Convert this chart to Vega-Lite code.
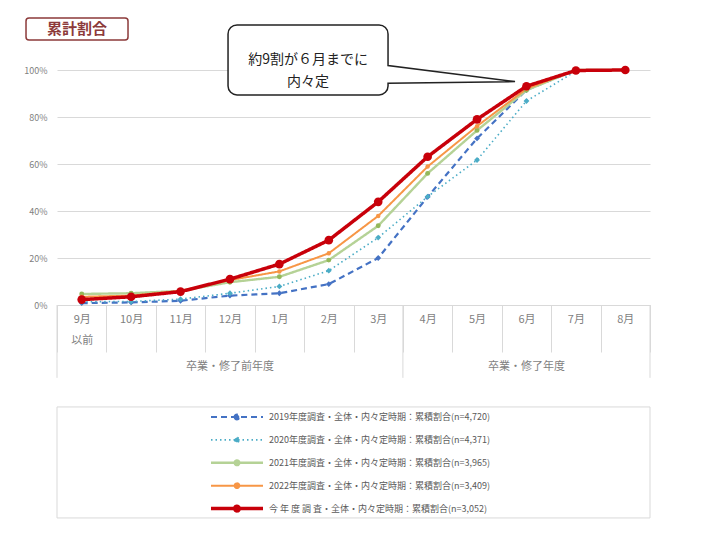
{
  "$schema": "https://vega.github.io/schema/vega-lite/v6.json",
  "width": 593,
  "height": 235,
  "autosize": {"type": "none"},
  "padding": {"left": 57, "top": 70, "right": 54, "bottom": 247},
  "background": "white",
  "config": {
    "font": "Noto Sans CJK JP",
    "view": {"stroke": null}
  },
  "data": {
    "values": [
      {"month": "9月", "series": "2019年度調査・全体・内々定時期：累積割合(n=4,720)", "value": 0.008},
      {"month": "10月", "series": "2019年度調査・全体・内々定時期：累積割合(n=4,720)", "value": 0.011},
      {"month": "11月", "series": "2019年度調査・全体・内々定時期：累積割合(n=4,720)", "value": 0.018},
      {"month": "12月", "series": "2019年度調査・全体・内々定時期：累積割合(n=4,720)", "value": 0.04},
      {"month": "1月", "series": "2019年度調査・全体・内々定時期：累積割合(n=4,720)", "value": 0.05},
      {"month": "2月", "series": "2019年度調査・全体・内々定時期：累積割合(n=4,720)", "value": 0.089},
      {"month": "3月", "series": "2019年度調査・全体・内々定時期：累積割合(n=4,720)", "value": 0.2},
      {"month": "4月", "series": "2019年度調査・全体・内々定時期：累積割合(n=4,720)", "value": 0.46},
      {"month": "5月", "series": "2019年度調査・全体・内々定時期：累積割合(n=4,720)", "value": 0.709},
      {"month": "6月", "series": "2019年度調査・全体・内々定時期：累積割合(n=4,720)", "value": 0.915},
      {"month": "7月", "series": "2019年度調査・全体・内々定時期：累積割合(n=4,720)", "value": 1.0},
      {"month": "8月", "series": "2019年度調査・全体・内々定時期：累積割合(n=4,720)", "value": 1.0},
      {"month": "9月", "series": "2020年度調査・全体・内々定時期：累積割合(n=4,371)", "value": 0.014},
      {"month": "10月", "series": "2020年度調査・全体・内々定時期：累積割合(n=4,371)", "value": 0.015},
      {"month": "11月", "series": "2020年度調査・全体・内々定時期：累積割合(n=4,371)", "value": 0.025},
      {"month": "12月", "series": "2020年度調査・全体・内々定時期：累積割合(n=4,371)", "value": 0.05},
      {"month": "1月", "series": "2020年度調査・全体・内々定時期：累積割合(n=4,371)", "value": 0.079},
      {"month": "2月", "series": "2020年度調査・全体・内々定時期：累積割合(n=4,371)", "value": 0.146},
      {"month": "3月", "series": "2020年度調査・全体・内々定時期：累積割合(n=4,371)", "value": 0.287},
      {"month": "4月", "series": "2020年度調査・全体・内々定時期：累積割合(n=4,371)", "value": 0.461},
      {"month": "5月", "series": "2020年度調査・全体・内々定時期：累積割合(n=4,371)", "value": 0.617},
      {"month": "6月", "series": "2020年度調査・全体・内々定時期：累積割合(n=4,371)", "value": 0.868},
      {"month": "7月", "series": "2020年度調査・全体・内々定時期：累積割合(n=4,371)", "value": 0.995},
      {"month": "8月", "series": "2020年度調査・全体・内々定時期：累積割合(n=4,371)", "value": 1.0},
      {"month": "9月", "series": "2021年度調査・全体・内々定時期：累積割合(n=3,965)", "value": 0.047},
      {"month": "10月", "series": "2021年度調査・全体・内々定時期：累積割合(n=3,965)", "value": 0.05},
      {"month": "11月", "series": "2021年度調査・全体・内々定時期：累積割合(n=3,965)", "value": 0.06},
      {"month": "12月", "series": "2021年度調査・全体・内々定時期：累積割合(n=3,965)", "value": 0.097},
      {"month": "1月", "series": "2021年度調査・全体・内々定時期：累積割合(n=3,965)", "value": 0.12},
      {"month": "2月", "series": "2021年度調査・全体・内々定時期：累積割合(n=3,965)", "value": 0.191},
      {"month": "3月", "series": "2021年度調査・全体・内々定時期：累積割合(n=3,965)", "value": 0.337},
      {"month": "4月", "series": "2021年度調査・全体・内々定時期：累積割合(n=3,965)", "value": 0.56},
      {"month": "5月", "series": "2021年度調査・全体・内々定時期：累積割合(n=3,965)", "value": 0.743},
      {"month": "6月", "series": "2021年度調査・全体・内々定時期：累積割合(n=3,965)", "value": 0.914},
      {"month": "7月", "series": "2021年度調査・全体・内々定時期：累積割合(n=3,965)", "value": 1.0},
      {"month": "8月", "series": "2021年度調査・全体・内々定時期：累積割合(n=3,965)", "value": 1.0},
      {"month": "9月", "series": "2022年度調査・全体・内々定時期：累積割合(n=3,409)", "value": 0.035},
      {"month": "10月", "series": "2022年度調査・全体・内々定時期：累積割合(n=3,409)", "value": 0.04},
      {"month": "11月", "series": "2022年度調査・全体・内々定時期：累積割合(n=3,409)", "value": 0.06},
      {"month": "12月", "series": "2022年度調査・全体・内々定時期：累積割合(n=3,409)", "value": 0.106},
      {"month": "1月", "series": "2022年度調査・全体・内々定時期：累積割合(n=3,409)", "value": 0.143},
      {"month": "2月", "series": "2022年度調査・全体・内々定時期：累積割合(n=3,409)", "value": 0.22},
      {"month": "3月", "series": "2022年度調査・全体・内々定時期：累積割合(n=3,409)", "value": 0.379},
      {"month": "4月", "series": "2022年度調査・全体・内々定時期：累積割合(n=3,409)", "value": 0.589},
      {"month": "5月", "series": "2022年度調査・全体・内々定時期：累積割合(n=3,409)", "value": 0.761},
      {"month": "6月", "series": "2022年度調査・全体・内々定時期：累積割合(n=3,409)", "value": 0.92},
      {"month": "7月", "series": "2022年度調査・全体・内々定時期：累積割合(n=3,409)", "value": 1.0},
      {"month": "8月", "series": "2022年度調査・全体・内々定時期：累積割合(n=3,409)", "value": 1.0},
      {"month": "9月", "series": "今 年 度 調 査・全体・内々定時期：累積割合(n=3,052)", "value": 0.023},
      {"month": "10月", "series": "今 年 度 調 査・全体・内々定時期：累積割合(n=3,052)", "value": 0.035},
      {"month": "11月", "series": "今 年 度 調 査・全体・内々定時期：累積割合(n=3,052)", "value": 0.057},
      {"month": "12月", "series": "今 年 度 調 査・全体・内々定時期：累積割合(n=3,052)", "value": 0.11},
      {"month": "1月", "series": "今 年 度 調 査・全体・内々定時期：累積割合(n=3,052)", "value": 0.174},
      {"month": "2月", "series": "今 年 度 調 査・全体・内々定時期：累積割合(n=3,052)", "value": 0.276},
      {"month": "3月", "series": "今 年 度 調 査・全体・内々定時期：累積割合(n=3,052)", "value": 0.439},
      {"month": "4月", "series": "今 年 度 調 査・全体・内々定時期：累積割合(n=3,052)", "value": 0.631},
      {"month": "5月", "series": "今 年 度 調 査・全体・内々定時期：累積割合(n=3,052)", "value": 0.79},
      {"month": "6月", "series": "今 年 度 調 査・全体・内々定時期：累積割合(n=3,052)", "value": 0.931},
      {"month": "7月", "series": "今 年 度 調 査・全体・内々定時期：累積割合(n=3,052)", "value": 0.998},
      {"month": "8月", "series": "今 年 度 調 査・全体・内々定時期：累積割合(n=3,052)", "value": 1.0}
    ]
  },
  "encoding": {
    "x": {
      "field": "month",
      "type": "ordinal",
      "sort": null,
      "scale": {
        "type": "band",
        "domain": ["9月", "10月", "11月", "12月", "1月", "2月", "3月", "4月", "5月", "6月", "7月", "8月"],
        "paddingInner": 0,
        "paddingOuter": 0
      },
      "axis": {
        "title": null,
        "labelAngle": 0,
        "tickBand": "extent",
        "tickSize": 47,
        "tickColor": "#d9d9d9",
        "domainColor": "#d9d9d9",
        "labelPadding": -39,
        "labelBaseline": "top",
        "labelFontSize": 11,
        "labelColor": "#7f7f7f",
        "labelLineHeight": 21,
        "labelOverlap": false,
        "labelExpr": "datum.value === '9月' ? ['9月', '以前'] : datum.value",
        "grid": false
      }
    },
    "y": {
      "field": "value",
      "type": "quantitative",
      "scale": {"domain": [0, 1], "nice": false},
      "axis": {
        "title": null,
        "format": "%",
        "values": [0, 0.2, 0.4, 0.6, 0.8, 1],
        "ticks": false,
        "domain": false,
        "labelPadding": 10,
        "labelFontSize": 9,
        "labelColor": "#7f7f7f",
        "gridColor": "#d9d9d9"
      }
    }
  },
  "layer": [
    {
      "mark": {"type": "line"},
      "encoding": {
        "color": {
          "field": "series",
          "type": "nominal",
          "sort": null,
          "scale": {
            "domain": [
              "2019年度調査・全体・内々定時期：累積割合(n=4,720)",
              "2020年度調査・全体・内々定時期：累積割合(n=4,371)",
              "2021年度調査・全体・内々定時期：累積割合(n=3,965)",
              "2022年度調査・全体・内々定時期：累積割合(n=3,409)",
              "今 年 度 調 査・全体・内々定時期：累積割合(n=3,052)"
            ],
            "range": ["#4472c4", "#4bacc6", "#b5d296", "#f79646", "#c8000a"]
          },
          "legend": {
            "title": null,
            "orient": "none",
            "legendX": 152,
            "legendY": 341,
            "direction": "vertical",
            "symbolType": "M-1,0L1,0M-0.09,0A0.09,0.09,0,1,0,0.09,0A0.09,0.09,0,1,0,-0.09,0",
            "symbolSize": 2704,
            "clipHeight": 12,
            "rowPadding": 10.9,
            "labelFontSize": 9,
            "labelColor": "#595959",
            "labelOffset": 4,
            "labelLimit": 400,
            "padding": 0,
            "encode": {"symbols": {"update": {"fill": {"scale": "color", "field": "value"}}}}
          }
        },
        "strokeDash": {
          "field": "series",
          "type": "nominal",
          "sort": null,
          "scale": {
            "domain": [
              "2019年度調査・全体・内々定時期：累積割合(n=4,720)",
              "2020年度調査・全体・内々定時期：累積割合(n=4,371)",
              "2021年度調査・全体・内々定時期：累積割合(n=3,965)",
              "2022年度調査・全体・内々定時期：累積割合(n=3,409)",
              "今 年 度 調 査・全体・内々定時期：累積割合(n=3,052)"
            ],
            "range": [[6, 4], [1.5, 3], [1, 0], [1, 0], [1, 0]]
          },
          "legend": {"title": null}
        },
        "strokeWidth": {
          "field": "series",
          "type": "ordinal",
          "sort": null,
          "scale": {
            "type": "ordinal",
            "domain": [
              "2019年度調査・全体・内々定時期：累積割合(n=4,720)",
              "2020年度調査・全体・内々定時期：累積割合(n=4,371)",
              "2021年度調査・全体・内々定時期：累積割合(n=3,965)",
              "2022年度調査・全体・内々定時期：累積割合(n=3,409)",
              "今 年 度 調 査・全体・内々定時期：累積割合(n=3,052)"
            ],
            "range": [2.2, 1.6, 2.4, 2, 3.5]
          },
          "legend": {"title": null}
        }
      }
    },
    {
      "transform": [{"filter": {"field": "series", "oneOf": ["2019年度調査・全体・内々定時期：累積割合(n=4,720)", "2020年度調査・全体・内々定時期：累積割合(n=4,371)"]}}],
      "mark": {"type": "point", "shape": "diamond", "size": 34, "filled": true, "opacity": 1},
      "encoding": {"color": {"field": "series", "type": "nominal", "sort": null, "legend": null}}
    },
    {
      "transform": [{"filter": {"field": "series", "equal": "2021年度調査・全体・内々定時期：累積割合(n=3,965)"}}],
      "mark": {"type": "point", "shape": "circle", "size": 24, "filled": true, "opacity": 1, "color": "#93b85a"}
    },
    {
      "transform": [{"filter": {"field": "series", "equal": "2022年度調査・全体・内々定時期：累積割合(n=3,409)"}}],
      "mark": {"type": "point", "shape": "circle", "size": 20, "filled": true, "opacity": 1, "color": "#f79646"}
    },
    {
      "transform": [{"filter": {"field": "series", "equal": "今 年 度 調 査・全体・内々定時期：累積割合(n=3,052)"}}],
      "mark": {"type": "point", "shape": "circle", "size": 75, "filled": true, "opacity": 1, "color": "#c8000a"}
    },
    {
      "transform": [{"filter": "datum.month === '8月' && datum.series === '今 年 度 調 査・全体・内々定時期：累積割合(n=3,052)'"}],
      "layer": [
        {
          "mark": {"type": "rule", "color": "#d9d9d9", "strokeWidth": 1},
          "encoding": {"x": {"datum": "9月", "bandPosition": 0}, "y": {"datum": 0}, "y2": {"datum": -0.31}}
        },
        {
          "mark": {"type": "rule", "color": "#d9d9d9", "strokeWidth": 1},
          "encoding": {"x": {"datum": "4月", "bandPosition": 0}, "y": {"datum": 0}, "y2": {"datum": -0.31}}
        },
        {
          "mark": {"type": "rule", "color": "#d9d9d9", "strokeWidth": 1},
          "encoding": {"x": {"datum": "8月", "bandPosition": 1}, "y": {"datum": 0}, "y2": {"datum": -0.31}}
        },
        {
          "mark": {"type": "text", "text": "卒業・修了前年度", "fontSize": 11, "color": "#7f7f7f", "baseline": "middle", "align": "center"},
          "encoding": {"x": {"datum": "12月"}, "y": {"datum": -0.264}}
        },
        {
          "mark": {"type": "text", "text": "卒業・修了年度", "fontSize": 11, "color": "#7f7f7f", "baseline": "middle", "align": "center"},
          "encoding": {"x": {"datum": "6月"}, "y": {"datum": -0.264}}
        },
        {
          "mark": {"type": "point", "shape": "M-1,-0.1872H1V0.1872H-1Z", "size": 351649, "filled": false, "stroke": "#d9d9d9", "strokeWidth": 1, "opacity": 1},
          "encoding": {"x": {"datum": "3月", "bandPosition": 0}, "y": {"datum": -0.67}}
        },
        {
          "mark": {"type": "point", "shape": "M-0.9412,-0.2157H0.9412A0.0588,0.0588,0,0,1,1,-0.1569V0.1569A0.0588,0.0588,0,0,1,0.9412,0.2157H-0.9412A0.0588,0.0588,0,0,1,-1,0.1569V-0.1569A0.0588,0.0588,0,0,1,-0.9412,-0.2157Z", "size": 10404, "filled": false, "stroke": "#8c3a3a", "strokeWidth": 1.5, "opacity": 1},
          "encoding": {"x": {"datum": "9月", "bandPosition": 0.405}, "y": {"datum": 1.174}}
        },
        {
          "mark": {"type": "text", "text": "累計割合", "fontSize": 15, "fontWeight": "bold", "color": "#8c3a3a", "baseline": "middle", "align": "center"},
          "encoding": {"x": {"datum": "9月", "bandPosition": 0.405}, "y": {"datum": 1.174}}
        },
        {
          "mark": {"type": "point", "shape": "M-0.8875,-0.4375H0.8875A0.1125,0.1125,0,0,1,1,-0.325V0.071L2.5875,0.271L1,0.291V0.325A0.1125,0.1125,0,0,1,0.8875,0.4375H-0.8875A0.1125,0.1125,0,0,1,-1,0.325V-0.325A0.1125,0.1125,0,0,1,-0.8875,-0.4375Z", "size": 25600, "filled": true, "fill": "white", "stroke": "#222222", "strokeWidth": 1.5, "opacity": 1},
          "encoding": {"x": {"datum": "2月", "bandPosition": 0.08}, "y": {"datum": 1.043}}
        },
        {
          "mark": {"type": "text", "text": ["約9割が６月までに", "内々定"], "fontSize": 14, "lineHeight": 22, "color": "#222222", "baseline": "middle", "align": "center"},
          "encoding": {"x": {"datum": "2月", "bandPosition": 0.08}, "y": {"datum": 1.043}}
        }
      ]
    }
  ]
}
